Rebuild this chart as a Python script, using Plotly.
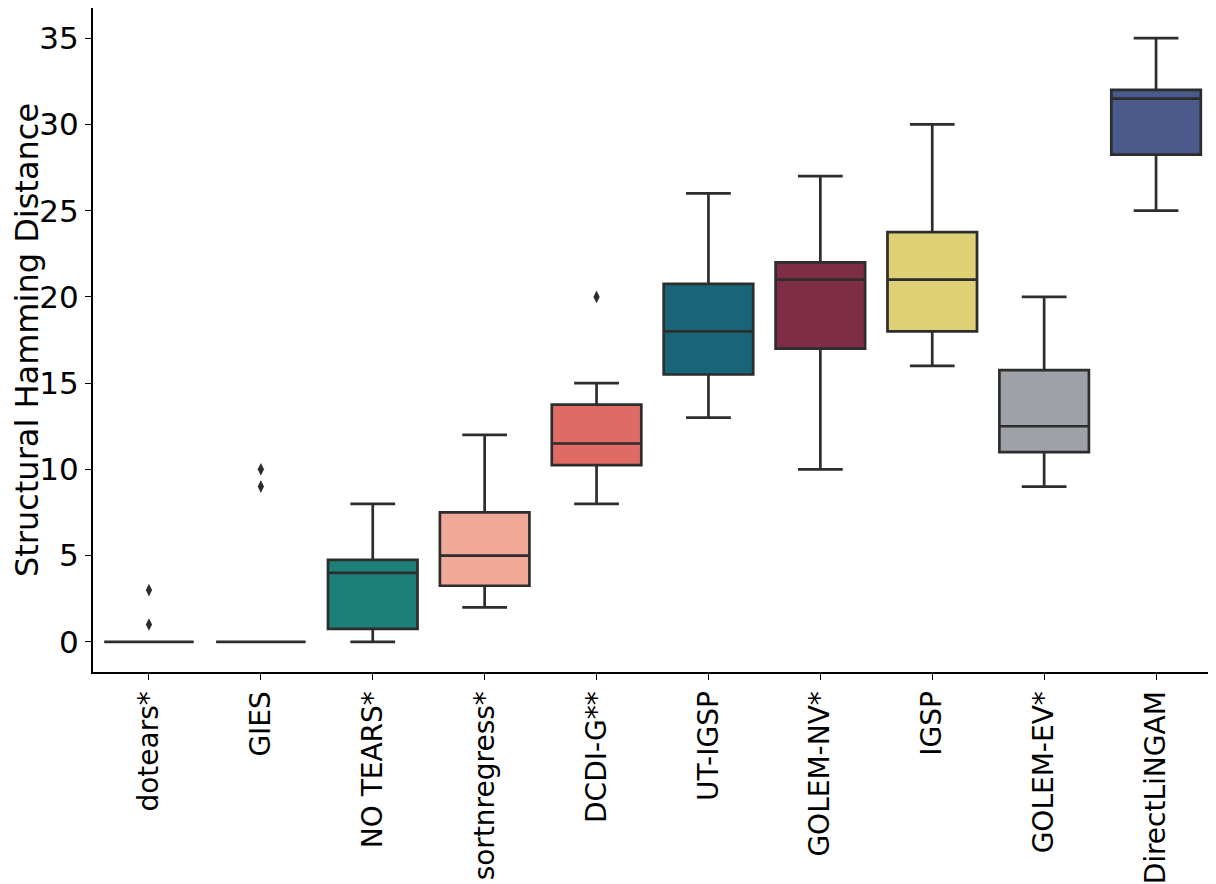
import plotly.graph_objects as go

# box statistics
methods = ["dotears*", "GIES", "NO TEARS*", "sortnregress*", "DCDI-G**",
           "UT-IGSP", "GOLEM-NV*", "IGSP", "GOLEM-EV*", "DirectLiNGAM"]
lower = [0, 0, 0, 2, 8, 13, 10, 16, 9, 25]
q1 = [0, 0, 0.75, 3.25, 10.25, 15.5, 17, 18, 11, 28.25]
median = [0, 0, 4, 5, 11.5, 18, 21, 21, 12.5, 31.5]
q3 = [0, 0, 4.75, 7.5, 13.75, 20.75, 22, 23.75, 15.75, 32]
upper = [0, 0, 8, 12, 15, 26, 27, 30, 20, 35]
colors = ["#3b6fb6", "#e9823a", "#1c8079", "#f0a898", "#e06a64",
          "#1a6478", "#7e2d45", "#dfd075", "#9ea1a6", "#4a5a8a"]

outlier_method = ["dotears*", "dotears*", "GIES", "GIES", "DCDI-G**"]
outlier_value = [1, 3, 9, 10, 20]

edge = "#2d2d2d"

fig = go.Figure()
for i, m in enumerate(methods):
    fig.add_trace(go.Box(
        x=[m], q1=[q1[i]], median=[median[i]], q3=[q3[i]],
        lowerfence=[lower[i]], upperfence=[upper[i]],
        boxpoints=False, width=0.8, whiskerwidth=0.5,
        fillcolor=colors[i], line=dict(color=edge, width=2.7),
        showlegend=False, hoverinfo="y"))

fig.add_trace(go.Scatter(
    x=outlier_method, y=outlier_value, mode="markers",
    marker=dict(symbol="diamond-tall", size=9, color=edge),
    showlegend=False))

fig.update_xaxes(
    categoryorder="array", categoryarray=methods, range=[-0.5, 9.5],
    tickangle=-90, showline=True, linecolor="black", linewidth=2,
    ticks="outside", ticklen=6, tickcolor="black", showgrid=False,
    zeroline=False, tickfont=dict(size=28), automargin=False)
fig.update_yaxes(
    title=dict(text="Structural Hamming Distance", font=dict(size=32), standoff=8),
    range=[-1.75, 36.75], tickvals=[0, 5, 10, 15, 20, 25, 30, 35],
    showline=True, linecolor="black", linewidth=2, ticks="outside",
    ticklen=6, tickcolor="black", showgrid=False, zeroline=False,
    tickfont=dict(size=31))
fig.update_layout(
    width=1208, height=876,
    margin=dict(l=85, r=4, t=0, b=212),
    plot_bgcolor="white", paper_bgcolor="white",
    font=dict(family="DejaVu Sans", color="black"))

fig.write_html("out.html")
